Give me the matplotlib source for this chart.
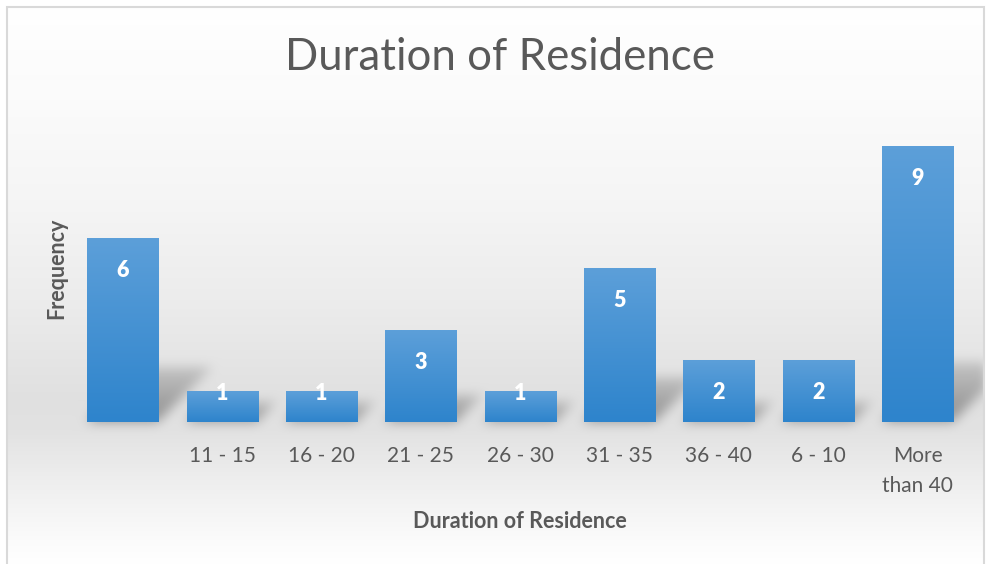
import numpy as np
import matplotlib.pyplot as plt
from matplotlib.patches import Rectangle
from matplotlib.colors import LinearSegmentedColormap

categories = ["", "11 - 15", "16 - 20", "21 - 25", "26 - 30", "31 - 35", "36 - 40", "6 - 10", "More\nthan 40"]
counts = [6, 1, 1, 3, 1, 5, 2, 2, 9]

W, H = 987, 564
plt.rcParams['font.family'] = ['Lato', 'DejaVu Sans']
grey = '#595959'

fig = plt.figure(figsize=(W / 100, H / 100), dpi=100)
bg = fig.add_axes([0, 0, 1, 1], zorder=0)
bg.set_axis_off()
ax = fig.add_axes([0.074, 0.2518, 0.906, 0.5426], zorder=1)
ax.set_facecolor('none')

x = np.arange(len(counts))
bars = ax.bar(x, counts, width=0.715, color='#4a94d6', zorder=3)

# vertical gradient inside each bar
grad = np.linspace(0, 1, 64).reshape(-1, 1)
bar_cmap = LinearSegmentedColormap.from_list('bar', ['#2e84cc', '#5c9fd9'])
for b in bars:
    x0, w, h = b.get_x(), b.get_width(), b.get_height()
    ax.imshow(grad, cmap=bar_cmap, extent=(x0, x0 + w, 0, h), origin='lower',
              aspect='auto', zorder=3.5, interpolation='bilinear')

ax.set_xlim(-0.5, len(counts) - 0.5)
ax.set_ylim(0, 10)
for s in ax.spines.values():
    s.set_visible(False)
ax.set_yticks([])
ax.set_xticks(x, categories, fontsize=15, color=grey, linespacing=1.65)
ax.tick_params(axis='x', length=0, pad=17)

for xi, v in zip(x, counts):
    off = 32 if v >= 2 else 2
    ax.annotate(str(v), (xi, v), xytext=(0, -off), textcoords='offset pixels',
                ha='center', va='center', color='white', fontsize=15.5,
                fontweight='heavy', zorder=5)

# background: soft grey gradient plus blurred bar shadows
rows = np.arange(H)
prof = np.interp(rows, [0, 100, 200, 300, 400, 430, 480, 540, 564],
                 [255, 251, 245, 236, 224, 226, 238, 251, 255])
img = np.repeat(prof[:, None], W, axis=1)

shadow = np.zeros((H, W))
for b in bars:
    x0, w, h = b.get_x(), b.get_width(), b.get_height()
    L, B = ax.transData.transform((x0, 0))
    R, T = ax.transData.transform((x0 + w, h))
    sh = min(max(0.3 * (T - B), 20), 60)
    for t in range(int(sh)):
        r = int(H - B) - t
        shadow[r, int(L + t):int(R + t)] = 1 - 0.6 * t / sh


def blur(a, r):
    k = np.ones(2 * r + 1) / (2 * r + 1)
    for _ in range(3):
        a = np.apply_along_axis(lambda m: np.convolve(m, k, mode='same'), 0, a)
        a = np.apply_along_axis(lambda m: np.convolve(m, k, mode='same'), 1, a)
    return a


shadow = blur(shadow, 5)
img = img - 80 * shadow
img[:, :7] = 255
img[:7, :] = 255
img[:, 985:] = 255
img = np.clip(img, 0, 255) / 255
bg.imshow(np.dstack([img] * 3), extent=(0, 1, 0, 1), aspect='auto')
bg.set_xlim(0, 1)
bg.set_ylim(0, 1)

fig.add_artist(Rectangle((7 / W, -0.1), (984 - 7) / W, (H - 7) / H + 0.1,
                         transform=fig.transFigure, fill=False,
                         ec='#d9d9d9', lw=1.5))

fig.text(500 / W, 1 - 58 / H, "Duration of Residence", ha='center', va='center',
         fontsize=31.5, color=grey)
fig.text(520 / W, 1 - 521 / H, "Duration of Residence", ha='center', va='center',
         fontsize=15.5, fontweight='bold', color=grey)
fig.text(57 / W, 1 - 268 / H, "Frequency", ha='center', va='center', rotation=90,
         fontsize=15.5, fontweight='bold', color=grey)

fig.savefig('out.png', dpi=100)
